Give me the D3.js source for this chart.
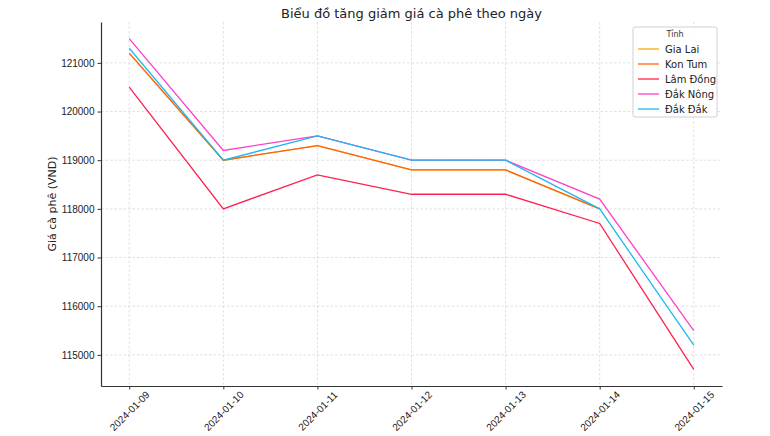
<!DOCTYPE html>
<html><head><meta charset="utf-8">
<script src="https://cdn.jsdelivr.net/npm/d3@7"></script>
<style>body{margin:0;background:#fff}svg{font-family:"DejaVu Sans",sans-serif}</style>
</head><body><svg id="c" width="770" height="436"></svg>
<script>
const dates = ["2024-01-09","2024-01-10","2024-01-11","2024-01-12","2024-01-13","2024-01-14","2024-01-15"];
const seriesNames = ["Gia Lai","Kon Tum","Lâm Đồng","Đắk Nông","Đắk Đắk"];
const giaLai  = [121200,119000,119300,118800,118800,118000,null];
const konTum  = [121200,119000,119300,118800,118800,118000,null];
const lamDong = [120500,118000,118700,118300,118300,117700,114700];
const dakNong = [121500,119200,119500,119000,119000,118200,115500];
const dakDak  = [121300,119000,119500,119000,119000,118000,115200];
const yTicks = [115000,116000,117000,118000,119000,120000,121000];
const colors = ["#ffa500","#ff6414","#ff2050","#ff40c8","#20b8f0"];
const values = [giaLai,konTum,lamDong,dakNong,dakDak];

const svg = d3.select("#c");
const L=101,R=722,T=22,B=386;
const x = d3.scaleLinear().domain([-0.3, dates.length-1+0.3]).range([L,R]);
const y = d3.scaleLinear().domain([114360,121840]).range([B,T]);
const idx = dates.map((d,i)=>i);

// grid
svg.append("g").selectAll("line").data(idx).join("line")
 .attr("x1",d=>x(d)).attr("x2",d=>x(d)).attr("y1",T).attr("y2",B)
 .attr("stroke","#d8d8d8").attr("stroke-width",0.8).attr("stroke-dasharray","2.5,2");
svg.append("g").selectAll("line").data(yTicks).join("line")
 .attr("x1",L).attr("x2",R).attr("y1",d=>y(d)).attr("y2",d=>y(d))
 .attr("stroke","#d8d8d8").attr("stroke-width",0.8).attr("stroke-dasharray","2.5,2");

// axes
const xa = svg.append("g").attr("transform",`translate(0,${B})`)
 .call(d3.axisBottom(x).tickValues(idx).tickFormat(i=>dates[i]).tickSize(3.5).tickSizeOuter(0));
xa.select(".domain").attr("stroke","#333").attr("stroke-width",1.2);
xa.selectAll(".tick line").attr("stroke","#333");
xa.selectAll(".tick text").attr("font-size",10).attr("fill","#222")
 .attr("text-anchor","middle").attr("x",0).attr("y",0).attr("dy",0)
 .attr("dominant-baseline","central")
 .attr("transform","translate(0,25) rotate(-45)");
const ya = svg.append("g").attr("transform",`translate(${L},0)`)
 .call(d3.axisLeft(y).tickValues(yTicks).tickFormat(d3.format("d")).tickSize(3.5).tickSizeOuter(0));
ya.select(".domain").attr("stroke","#333").attr("stroke-width",1.2);
ya.selectAll(".tick line").attr("stroke","#333");
ya.selectAll(".tick text").attr("font-size",10).attr("fill","#222");

// lines
const line = d3.line().defined(d=>d!==null).x((d,i)=>x(i)).y(d=>y(d));
values.forEach((v,i)=>{
 svg.append("path").datum(v).attr("d",line).attr("fill","none")
  .attr("stroke",colors[i]).attr("stroke-width",1.3);
});

// title & labels
svg.append("text").attr("x",(L+R)/2).attr("y",18).attr("text-anchor","middle")
 .attr("font-size",13).attr("fill","#222").text("Biểu đồ tăng giảm giá cà phê theo ngày");
svg.append("text").attr("transform",`translate(56,${(T+B)/2}) rotate(-90)`).attr("text-anchor","middle")
 .attr("font-size",11).attr("fill","#222").text("Giá cà phê (VND)");

// legend
const lg = svg.append("g").attr("transform","translate(633,27)");
lg.append("rect").attr("width",84).attr("height",90).attr("rx",2).attr("fill","#fff").attr("fill-opacity",0.8)
 .attr("stroke","#d0d0d0");
lg.append("text").attr("x",42).attr("y",10).attr("text-anchor","middle").attr("font-size",8).attr("fill","#333").text("Tỉnh");
seriesNames.forEach((n,i)=>{
 const yy = 22 + i*15;
 lg.append("line").attr("x1",5).attr("x2",26).attr("y1",yy).attr("y2",yy).attr("stroke",colors[i]).attr("stroke-width",1.3);
 lg.append("text").attr("x",32).attr("y",yy+3.5).attr("font-size",10).attr("fill","#222").text(n);
});
</script></body></html>
